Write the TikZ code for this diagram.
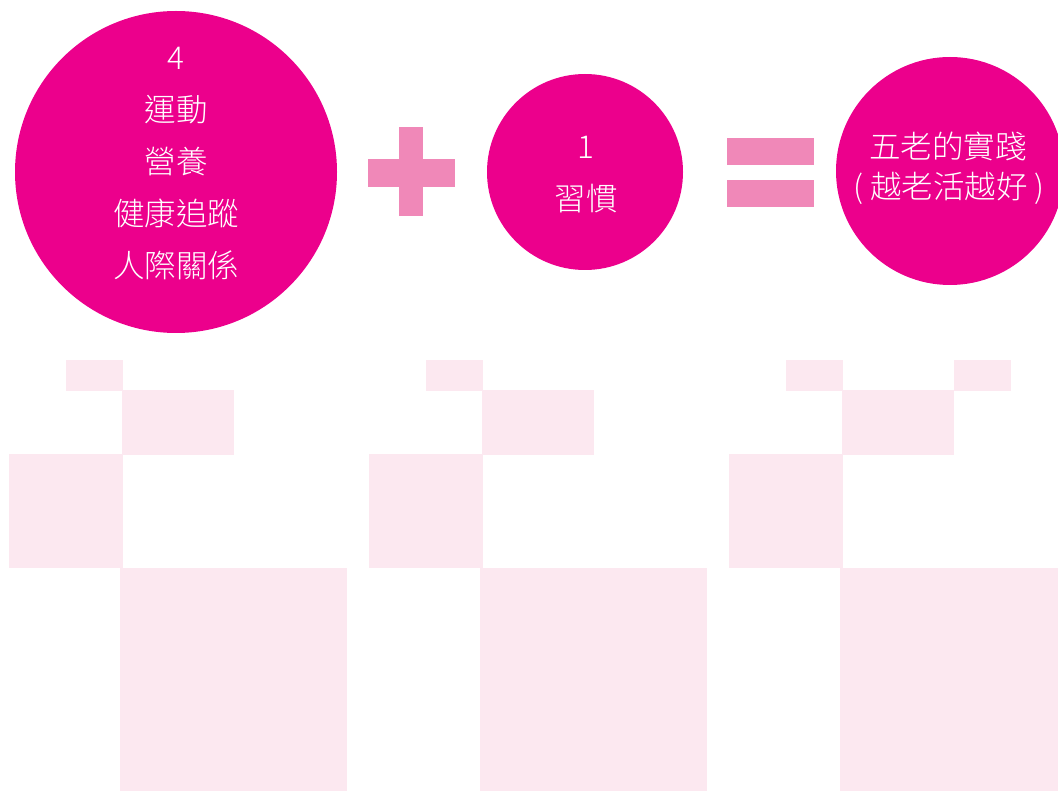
\documentclass[tikz,border=0pt]{standalone}
\usepackage{fontspec}
\IfFontExistsTF{Noto Sans CJK TC Light}
  {\newfontfamily\cjk{Noto Sans CJK TC Light}}
  {\newfontfamily\cjk{Noto Sans CJK TC}}
\definecolor{mag}{HTML}{EC008C}
\definecolor{signpink}{HTML}{F088B8}
\definecolor{tilepink}{HTML}{FCE8F0}
\begin{document}
\begin{tikzpicture}[x=1pt,y=-1pt,
  bubble/.style={circle,fill=mag,draw=none,inner sep=0pt,minimum size=#1},
  txt/.style={text=white,anchor=base,inner sep=0pt,font=\cjk\fontsize{31.5}{36}\selectfont},
  sign/.style={fill=signpink,draw=none},
  tile/.style={fill=tilepink,draw=none}]
\useasboundingbox (0,0) rectangle (1058,791);
\clip (0,0) rectangle (1058,791);
% tiles
\foreach \o in {0,360,720}{
  \fill[tile] (66+\o,360) rectangle (123+\o,391);
  \fill[tile] (122+\o,390) rectangle (234+\o,455);
  \fill[tile] (9+\o,454) rectangle (123+\o,568);
  \fill[tile] (120+\o,568) rectangle (347+\o,791);
}
\fill[tile] (954,360) rectangle (1011,391);
% circles
\node[bubble=322pt] (c1) at (176,172) {};
\node[bubble=196pt] (c2) at (585,172) {};
\node[bubble=228pt] (c3) at (950,171) {};
% plus and equals
\fill[sign] (399,127) rectangle (423,216);
\fill[sign] (368,159) rectangle (455,187);
\fill[sign] (727,138) rectangle (814,165);
\fill[sign] (727,180) rectangle (814,207);
% texts
\node[txt] (t1a) at (176,70) {4};
\node[txt] (t1b) at (176,122) {運動};
\node[txt] (t1c) at (176,174) {營養};
\node[txt] (t1d) at (176,226) {健康追蹤};
\node[txt] (t1e) at (176,278) {人際關係};
\node[txt] (t2a) at (586,159) {1};
\node[txt] (t2b) at (586,211) {習慣};
\node[txt] (t3a) at (948,159) {五老的實踐};
\node[txt] (t3b) at (949,199) {( 越老活越好 )};
\end{tikzpicture}
\end{document}
